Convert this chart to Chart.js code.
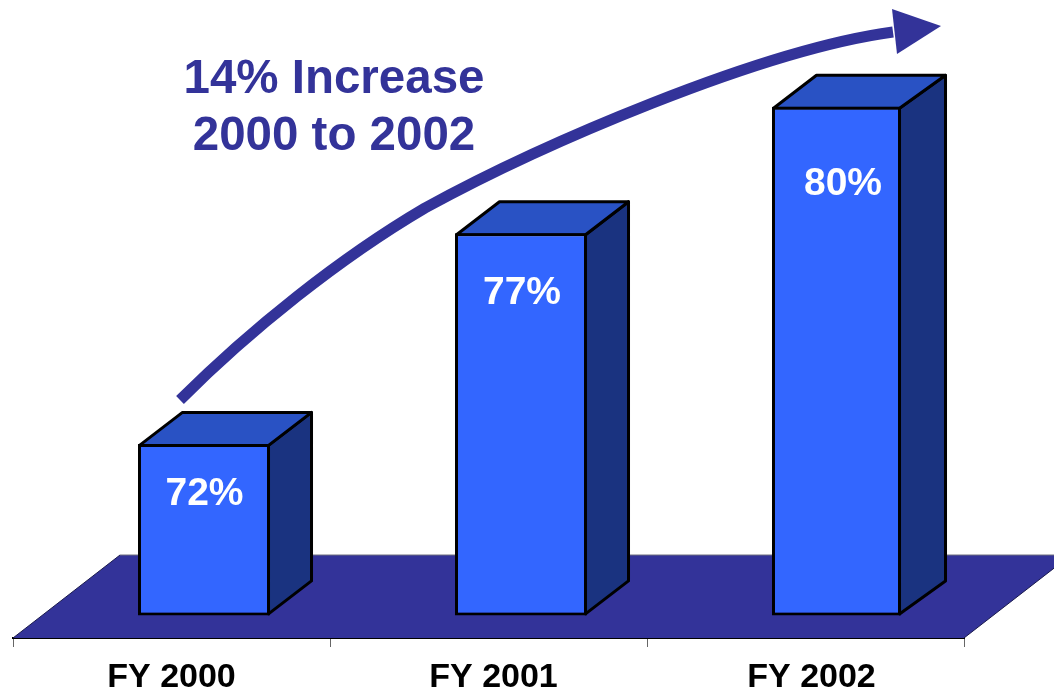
<!DOCTYPE html>
<html>
<head>
<meta charset="utf-8">
<style>
  html, body { margin: 0; padding: 0; background: #fff; }
  canvas { display: block; }
</style>
<script src="https://cdn.jsdelivr.net/npm/chart.js@4"></script>
</head>
<body>
<canvas id="chart" width="1054" height="689"></canvas>
<script>
// Fiscal-year percentages shown as raised blocks on a floor
const categories = ['FY 2000', 'FY 2001', 'FY 2002'];
const percentages = [72, 77, 80];
const valueLabels = ['72%', '77%', '80%'];
const headline = ['14% Increase', '2000 to 2002'];
const blockFloorValue = 67.93;

const NAVY = '#333399';
const FONT = '"Liberation Sans", Arial, sans-serif';
const DEPTH_X = 43, DEPTH_Y = 33;
const BLOCK_SHIFT = 32.5;
const BORDER = 3;
const LABEL_NUDGE = [[0.5, 50], [1, 60], [6.5, 77]];
const CATEGORY_NUDGE = [0, 5, 6];
const FRONT_TRIM = [0, 0, 3];

const blockScene = {
  id: 'blockScene',
  afterDatasetsUpdate(chart) {
    // Blocks stand back from the category centre, towards the rear of the floor
    chart.getDatasetMeta(0).data.forEach((bar, i) => {
      bar.x += BLOCK_SHIFT;
      bar.backRight = bar.x + bar.width / 2 - BORDER / 2 + DEPTH_X;
      bar.x -= FRONT_TRIM[i] / 2;
      bar.width -= FRONT_TRIM[i];
    });
  },
  beforeDatasetsDraw(chart) {
    const { ctx, chartArea } = chart;
    const bottom = chartArea.bottom, left = chartArea.left, right = chartArea.right;
    const floorDepthY = 83, floorDepthX = 107;

    // Floor plane
    ctx.save();
    ctx.beginPath();
    ctx.moveTo(left, bottom);
    ctx.lineTo(left + floorDepthX, bottom - floorDepthY);
    ctx.lineTo(right + floorDepthX, bottom - floorDepthY);
    ctx.lineTo(right, bottom);
    ctx.closePath();
    ctx.fillStyle = NAVY;
    ctx.fill();
    ctx.strokeStyle = '#6f6f7f';
    ctx.lineWidth = 1;
    ctx.beginPath();
    ctx.moveTo(left + floorDepthX, bottom - floorDepthY);
    ctx.lineTo(right + floorDepthX, bottom - floorDepthY);
    ctx.stroke();
    ctx.strokeStyle = '#1a1a4d';
    ctx.beginPath();
    ctx.moveTo(left, bottom);
    ctx.lineTo(left + floorDepthX, bottom - floorDepthY);
    ctx.moveTo(right, bottom);
    ctx.lineTo(right + floorDepthX, bottom - floorDepthY);
    ctx.stroke();

    // Side and top faces of each block, traced along the centre of the front border
    ctx.lineWidth = BORDER;
    ctx.lineJoin = 'round';
    ctx.strokeStyle = '#000';
    chart.getDatasetMeta(0).data.forEach(bar => {
      const inset = BORDER / 2;
      const x0 = bar.x - bar.width / 2 + inset, x1 = bar.x + bar.width / 2 - inset;
      const top = bar.y + inset, base = bar.base - inset;
      ctx.beginPath();
      ctx.moveTo(x1, top);
      ctx.lineTo(bar.backRight, top - DEPTH_Y);
      ctx.lineTo(bar.backRight, base - DEPTH_Y);
      ctx.lineTo(x1, base);
      ctx.closePath();
      ctx.fillStyle = '#1a3380';
      ctx.fill();
      ctx.stroke();
      ctx.beginPath();
      ctx.moveTo(x0, top);
      ctx.lineTo(x0 + DEPTH_X, top - DEPTH_Y);
      ctx.lineTo(bar.backRight, top - DEPTH_Y);
      ctx.lineTo(x1, top);
      ctx.closePath();
      ctx.fillStyle = '#2952c4';
      ctx.fill();
      ctx.stroke();
    });
    ctx.restore();
  },
  afterDatasetsDraw(chart) {
    const { ctx, chartArea, scales } = chart;
    ctx.save();

    // Value captions on the block faces
    ctx.fillStyle = '#fff';
    ctx.font = 'bold 39px ' + FONT;
    ctx.textAlign = 'center';
    ctx.textBaseline = 'middle';
    chart.getDatasetMeta(0).data.forEach((bar, i) => {
      ctx.fillText(valueLabels[i], bar.x + LABEL_NUDGE[i][0], bar.y + LABEL_NUDGE[i][1]);
    });

    // Category names under the axis
    ctx.fillStyle = '#000';
    ctx.font = 'bold 34px ' + FONT;
    categories.forEach((name, i) => {
      ctx.fillText(name, scales.x.getPixelForValue(i) + CATEGORY_NUDGE[i], chartArea.bottom + 39.5);
    });

    // Growth arrow sweeping over the blocks
    ctx.strokeStyle = NAVY;
    ctx.lineWidth = 11;
    ctx.lineCap = 'butt';
    ctx.beginPath();
    ctx.moveTo(180, 400);
    ctx.bezierCurveTo(250, 330, 340, 258, 425, 208);
    ctx.bezierCurveTo(540, 145, 760, 50, 893, 32);
    ctx.stroke();
    ctx.fillStyle = NAVY;
    ctx.beginPath();
    ctx.moveTo(892, 9);
    ctx.lineTo(941, 26);
    ctx.lineTo(897, 54);
    ctx.closePath();
    ctx.fill();

    // Headline
    ctx.font = 'bold 47.5px ' + FONT;
    ctx.textBaseline = 'alphabetic';
    ctx.fillText(headline[0], 334, 93);
    ctx.fillText(headline[1], 334, 150);
    ctx.restore();
  }
};

new Chart(document.getElementById('chart'), {
  type: 'bar',
  data: {
    labels: categories,
    datasets: [{
      data: percentages,
      base: blockFloorValue,
      backgroundColor: '#3366ff',
      borderColor: '#000',
      borderWidth: BORDER,
      borderSkipped: false,
      barPercentage: 1,
      categoryPercentage: 0.4165
    }]
  },
  options: {
    responsive: false,
    animation: false,
    layout: { padding: { left: 13, right: 90, top: 0, bottom: 0 } },
    plugins: { legend: { display: false }, tooltip: { enabled: false } },
    scales: {
      x: {
        afterFit(scale) { scale.height = 51; },
        border: { color: '#000', width: 2 },
        grid: { drawOnChartArea: false, drawTicks: true, tickLength: 9, tickColor: '#666', tickWidth: 1 },
        ticks: { display: false }
      },
      y: { display: false, min: 67.394, max: 82.534 }
    }
  },
  plugins: [blockScene]
});
</script>
</body>
</html>
